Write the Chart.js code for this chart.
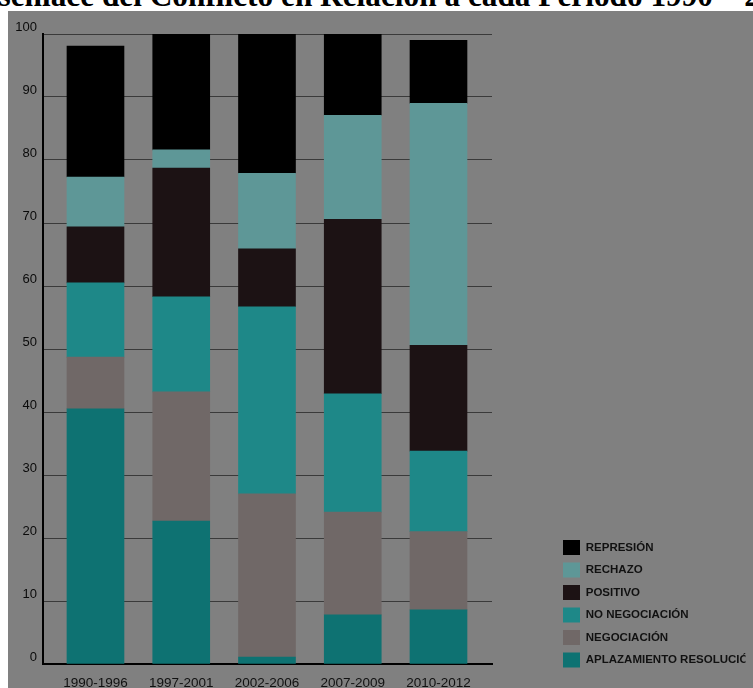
<!DOCTYPE html>
<html>
<head>
<meta charset="utf-8">
<script src="https://cdn.jsdelivr.net/npm/chart.js@4.4.1/dist/chart.umd.min.js"></script>
<style>
  body { margin: 0; background: #fff; overflow: hidden; width: 753px; height: 688px; }
  #titulo {
    position: absolute; left: -38px; top: -20px; white-space: nowrap;
    font: bold 31.3px/31px "Liberation Serif", serif; color: #000;
  }
  #marco {
    position: absolute; left: 8px; top: 11px; width: 745px; height: 677px;
    background: #808080;
  }
</style>
</head>
<body>
<div id="titulo">Desenlace del Conflicto en Relación a cada Período 1990 – 2012</div>
<div id="marco"><canvas id="grafico"></canvas></div>
<script>
// Periodos y porcentajes por tipo de desenlace
var periodos = ['1990-1996', '1997-2001', '2002-2006', '2007-2009', '2010-2012'];
var aplazamiento = [40.5, 22.7, 1.1, 7.8, 8.6];
var negociacion = [8.2, 20.5, 25.9, 16.3, 12.4];
var noNegociacion = [11.8, 15.1, 29.7, 18.8, 12.8];
var positivo = [8.9, 20.4, 9.2, 27.7, 16.8];
var rechazo = [7.9, 2.9, 12.0, 16.5, 38.4];
var represion = [20.8, 18.4, 22.1, 12.9, 10.0];

function puntos(valores) {
    return valores.map(function (v, i) { return { x: i, y: v }; });
}

function serie(nombre, valores, color) {
    return {
        label: nombre,
        data: puntos(valores),
        backgroundColor: color,
        borderWidth: 0,
        barThickness: 57
    };
}

var ctx = document.getElementById('grafico').getContext('2d');

var grafico = new Chart(ctx, {
    type: 'bar',
    data: {
        datasets: [
            serie('APLAZAMIENTO RESOLUCIÓN', aplazamiento, '#0e7272'),
            serie('NEGOCIACIÓN', negociacion, '#706867'),
            serie('NO NEGOCIACIÓN', noNegociacion, '#1e8888'),
            serie('POSITIVO', positivo, '#1c1214'),
            serie('RECHAZO', rechazo, '#5e9797'),
            serie('REPRESIÓN', represion, '#000000')
        ]
    },
    options: {
        responsive: true,
        maintainAspectRatio: false,
        animation: false,
        layout: { padding: { top: 23, right: 7.5, bottom: 13, left: 0 } },
        plugins: {
            tooltip: { enabled: false },
            legend: {
                position: 'right',
                align: 'end',
                reverse: true,
                maxWidth: 190,
                labels: {
                    boxWidth: 17,
                    boxHeight: 15,
                    padding: 7.5,
                    color: '#111',
                    font: { family: 'Liberation Sans', size: 11.5, weight: 'bold' }
                }
            }
        },
        scales: {
            x: {
                type: 'linear',
                stacked: true,
                offset: false,
                min: -0.612,
                max: 4.624,
                grid: { display: false, drawTicks: false },
                border: { display: true, color: '#000', width: 2 },
                afterBuildTicks: function (s) {
                    s.ticks = periodos.map(function (p, i) { return { value: i }; });
                },
                afterFit: function (s) { s.height = 11; },
                ticks: {
                    // mirror evita el recorte de las etiquetas bajo el eje
                    mirror: true,
                    padding: -27,
                    maxRotation: 0,
                    autoSkip: false,
                    color: '#111',
                    font: { family: 'Liberation Sans', size: 13.5 },
                    callback: function (v) { return periodos[v]; }
                }
            },
            y: {
                stacked: true,
                min: 0,
                max: 100,
                grid: { color: '#3a3a3a', lineWidth: 1, drawTicks: false },
                border: { color: '#000', width: 2 },
                afterFit: function (s) { s.width = 35; },
                ticks: {
                    stepSize: 10,
                    padding: 6,
                    labelOffset: -7,
                    color: '#0a0a0a',
                    font: { family: 'Liberation Sans', size: 13 }
                }
            },
            relleno: {
                type: 'linear',
                position: 'right',
                grid: { display: false },
                border: { display: false },
                ticks: { display: false },
                afterFit: function (s) { s.width = 63.5; }
            }
        }
    }
});
</script>
</body>
</html>
